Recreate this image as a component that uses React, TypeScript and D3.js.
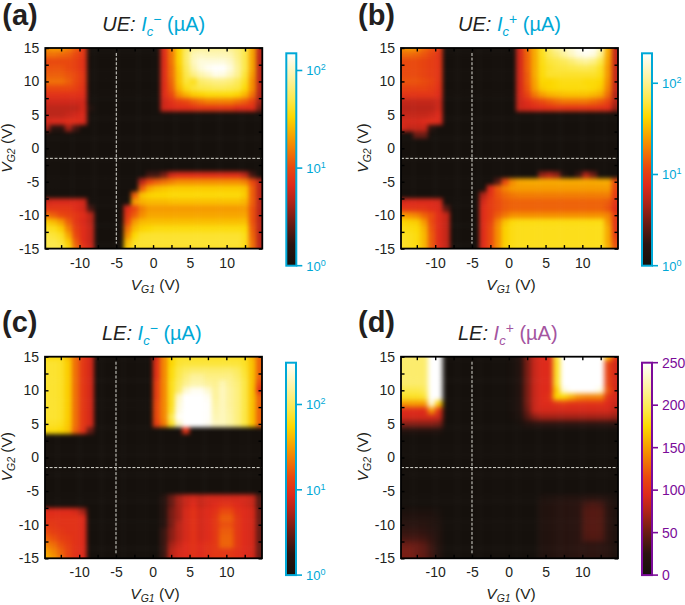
import * as React from 'react'
import { useEffect, useRef } from 'react'
import * as d3 from 'd3'

// grid of the gate sweeps, V
const vg1Grid = [-14.5,-13.5,-12.5,-11.5,-10.5,-9.5,-8.5,-7.5,-6.5,-5.5,-4.5,-3.5,-2.5,-1.5,-0.5,0.5,1.5,2.5,3.5,4.5,5.5,6.5,7.5,8.5,9.5,10.5,11.5,12.5,13.5,14.5]
const vg2Grid = [15,14,13,12,11,10,9,8,7,6,5,4,3,2,1,0,-1,-2,-3,-4,-5,-6,-7,-8,-9,-10,-11,-12,-13,-14,-15]

const xTicks = [-12.5,-10,-7.5,-5,-2.5,0,2.5,5,7.5,10,12.5]
const yTicks = [-15,-12.5,-10,-7.5,-5,-2.5,0,2.5,5,7.5,10,12.5,15]

// colour map stops, shared by the four panels
const heatStops = [0,0.1,0.2,0.3,0.38,0.46,0.58,0.7,0.78,0.88,1]
const heatColors = ['#15100c','#2b1410','#6a1c14','#b02418','#de2a1b','#e9480f','#f59000','#fcd800','#fce84a','#fdf3a0','#ffffff']

// critical current, uA, one row per vg2Grid entry
const ueMinus = [
[18,20,20,16,12,8,1,1,1,1,1,1,1,1,1,1,7,16,32,55,75,80,80,80,80,75,65,50,22,5],
[14,14,13,12,10,8,1,1,1,1,1,1,1,1,1,1,7,15,32,60,95,100,95,95,95,90,70,50,22,5],
[10,10,10,10,9,7.5,1,1,1,1,1,1,1,1,1,1,7,15,32,60,100,120,120,120,120,105,75,50,22,5],
[11,11,11,10,9,7.5,1,1,1,1,1,1,1,1,1,1,7,14,30,55,90,120,140,150,150,120,80,50,22,5],
[12,12,12,11,10,8,1,1,1,1,1,1,1,1,1,1,7,14,28,50,70,90,105,130,125,100,75,45,20,5],
[14,14,14,12,10,8,1,1,1,1,1,1,1,1,1,1,7,13,28,45,40,60,65,70,70,65,55,40,18,5],
[10,10,10,10,9,7.5,1,1,1,1,1,1,1,1,1,1,7,12,25,38,45,50,52,55,55,52,48,35,18,5],
[7.5,7.5,7.5,7.5,7.5,7,1,1,1,1,1,1,1,1,1,1,7,10,18,24,30,32,35,35,35,35,32,25,14,4.5],
[6,6,6,6,6,6,1,1,1,1,1,1,1,1,1,1,6,7.5,9,10,12,14,16,16,16,16,14,12,9,4],
[5,5,5,5,5,6,1.3,1,1,1,1,1,1,1,1,1,6,6.5,7,7,7.5,8,8,8,8,8,7,7,7,3],
[5,5,5,5.5,6,6.5,1,1,1,1,1,1,1,1,1,1,1,1,1,1,1,1,1,1,1,1,1,1,1,1],
[6,6.5,6.5,7,7,6.5,1,1,1,1,1,1,1,1,1,1,1,1,1,1,1,1,1,1,1,1,1,1,1,1],
[4,1.5,1.5,4,2,1,1,1,1,1,1,1,1,1,1,1,1,1,1,1,1,1,1,1,1,1,1,1,1,1],
[1,1,1,1,1,1,1,1,1,1,1,1,1,1,1,1,1,1,1,1,1,1,1,1,1,1,1,1,1,1],
[1,1,1,1,1,1,1,1,1,1,1,1,1,1,1,1,1,1,1,1,1,1,1,1,1,1,1,1,1,1],
[1,1,1,1,1,1,1,1,1,1,1,1,1,1,1,1,1,1,1,1,1,1,1,1,1,1,1,1,1,1],
[1,1,1,1,1,1,1,1,1,1,1,1,1,1,1,1,1,1,1,1,1,1,1,1,1,1,1,1,1,1],
[1,1,1,1,1,1,1,1,1,1,1,1,1,1,1,1,1,1,1,1,1,1,1,1,1,1,1,1,1,1],
[1,1,1,1,1,1,1,1,1,1,1,1,1,1,1,1,1,1,1,1,1,1,1,1,1,1,1,1,1,1],
[1,1,1,1,1,1,1,1,1,1,1,1,1,1,2,2,3,6,7,7,7,7,7,7,7,7,7,5,2,1],
[1,1,1,1,1,1,1,1,1,1,1,1,1,5,10,12,14,16,18,18,18,18,18,18,18,18,18,16,10,5],
[1,1,1,1,1,1,1,1,1,1,1,1,1,12,22,26,28,30,30,30,30,30,30,30,30,30,30,28,12,5],
[1,1,1,1,1,1,1,1,1,1,1,1,12,28,32,33,33,35,35,35,35,35,35,35,35,35,35,30,12,5],
[6,6.5,6.5,6.5,6.5,6,1,1,1,1,1,1,20,24,26,26,26,27,27,27,27,27,27,27,27,27,27,25,12,5],
[8,8,8,8,7,6,2,1,1,1,1,7,10,16,20,20,20,20,20,20,20,20,20,20,20,20,20,20,11,5],
[14,12,10,9,8,7,5,1,1,1,1,8,12,18,22,22,22,22,22,22,22,22,22,22,22,22,22,22,11,5],
[30,26,20,12,8,6.5,5,1,1,1,1,10,20,26,27,27,27,27,27,27,27,27,27,27,27,27,27,27,11,5],
[40,38,30,16,9,7,5.5,1,1,1,1,14,26,32,34,36,36,36,36,36,36,36,36,36,36,36,36,34,12,5],
[48,45,40,22,10,7,5.5,1,1,1,1,18,34,42,43,43,43,43,43,43,43,43,43,43,43,43,43,38,13,5],
[50,50,45,30,12,7,5.5,1,1,1,1,26,40,44,44,44,44,44,44,44,44,44,44,44,44,44,44,38,14,5],
[50,50,50,35,14,8,6,1,1,1,1,30,42,42,42,42,42,42,42,42,42,42,42,42,42,42,42,36,14,5],
]

const uePlus = [
[22,24,22,16,13,10,1,1,1,1,1,1,1,1,1,1,7,16,28,50,80,110,130,160,200,213,200,130,30,6],
[16,16,15,13,11,9,1,1,1,1,1,1,1,1,1,1,7,15,28,50,70,85,110,140,175,190,170,100,28,6],
[12,12,12,11,10,9,1,1,1,1,1,1,1,1,1,1,7,15,28,48,60,65,72,85,100,110,95,65,26,6],
[12,12,12,11,10,9,1,1,1,1,1,1,1,1,1,1,7,15,28,46,55,60,62,65,68,70,65,52,24,6],
[12,12,12,11,10,9,1,1,1,1,1,1,1,1,1,1,7,14,28,45,55,55,55,55,55,55,55,48,24,6],
[13,13,13,12,11,9,1,1,1,1,1,1,1,1,1,1,7,14,26,42,42,45,48,48,48,45,45,42,22,6],
[11,11,11,11,10,8.5,1,1,1,1,1,1,1,1,1,1,7,13,25,38,42,44,46,46,46,46,44,38,20,6],
[9,9,9,9,9,8,1,1,1,1,1,1,1,1,1,1,7,11,18,25,30,32,34,35,35,35,32,28,16,5],
[6,6,6,6,6,6.5,1,1,1,1,1,1,1,1,1,1,6.5,8,10,12,14,16,18,18,18,18,16,14,11,5],
[5.5,5.5,5.5,5.5,5.5,6.5,1,1,1,1,1,1,1,1,1,1,6.5,7,7.5,8,8.5,9,9,9,9,9,9,8.5,8,4],
[6,6,6,6,6.5,7.5,1,1,1,1,1,1,1,1,1,1,1,1,1,1,1,1,1,1,1,1,1,1,1,1],
[7,7,7,7.5,8,7.5,1,1,1,1,1,1,1,1,1,1,1,1,1,1,1,1,1,1,1,1,1,1,1,1],
[7,6,6,6,1.5,1,1,1,1,1,1,1,1,1,1,1,1,1,1,1,1,1,1,1,1,1,1,1,1,1],
[1,1,3,3,1,1,1,1,1,1,1,1,1,1,1,1,1,1,1,1,1,1,1,1,1,1,1,1,1,1],
[1,1,1,1,1,1,1,1,1,1,1,1,1,1,1,1,1,1,1,1,1,1,1,1,1,1,1,1,1,1],
[1,1,1,1,1,1,1,1,1,1,1,1,1,1,1,1,1,1,1,1,1,1,1,1,1,1,1,1,1,1],
[1,1,1,1,1,1,1,1,1,1,1,1,1,1,1,1,1,1,1,1,1,1,1,1,1,1,1,1,1,1],
[1,1,1,1,1,1,1,1,1,1,1,1,1,1,1,1,1,1,1,1,1,1,1,1,1,1,1,1,1,1],
[1,1,1,1,1,1,1,1,1,1,1,1,1,1,1,1,1,1,1,1,1,1,1,1,1,1,1,1,1,1],
[1,1,1,1,1,1,1,1,1,1,1,1,1,1,1,1,1,1,1,4,5,4,1.5,1,2,5,3,1,1,1],
[1,1,1,1,1,1,1,1,1,1,1,1,1,2.5,12,22,27,28,28,28,28,28,28,28,28,28,28,28,28,12],
[1,1,1,1,1,1,1,1,1,1,1,1,8,14,20,24,25,25,25,25,25,25,25,25,25,25,25,25,25,11],
[1,1,1,1,1,1,1,1,1,1,1,5,9,13,16,18,19,19,19,19,19,19,19,19,19,19,19,19,19,10],
[7,7.5,7.5,7.5,7.5,7,1,1,1,1,1,7,10,12,14,15,15,15,15,15,15,15,15,15,15,15,15,15,14,9],
[9,9,9,9,8,7.5,2.5,1,1,1,1,8,10,12,14,15,15,15,15,15,15,15,15,15,15,15,15,15,13,8],
[24,22,20,15,12,8,6,1,1,1,1,8,10,14,18,22,22,22,22,22,22,22,22,22,22,22,22,22,20,10],
[42,40,38,24,12,8,6,1,1,1,1,8,11,20,35,45,47,47,47,47,47,47,47,47,47,47,47,47,24,9],
[48,46,44,30,13,8,6,1,1,1,1,8,12,22,40,48,50,50,50,50,50,50,50,50,50,50,50,50,28,9],
[52,50,46,32,14,8,6,1,1,1,1,8,12,22,40,48,50,50,50,50,50,50,50,50,50,50,50,50,28,10],
[55,50,46,32,14,8,6,1,1,1,1,8,12,22,40,48,50,50,50,50,50,50,50,50,50,50,50,50,28,12],
[55,50,46,32,14,8,6,1,1,1,1,8,12,22,40,48,50,50,50,50,50,50,50,50,50,50,50,50,30,14],
]

const leMinus = [
[60,60,60,42,20,11,8,1,1,1,1,1,1,1,1,8,25,55,70,70,70,70,70,70,70,70,70,65,40,18],
[75,75,70,50,20,11,8,1,1,1,1,1,1,1,1,10,25,55,75,80,80,80,80,80,80,80,80,70,45,18],
[75,75,70,50,20,11,8,1,1,1,1,1,1,1,1,10,25,60,85,100,110,110,110,110,110,110,100,75,45,18],
[75,75,70,50,20,11,8,1,1,1,1,1,1,1,1,10,25,60,90,120,150,150,130,130,130,130,110,80,45,18],
[75,75,70,50,20,11,8,1,1,1,1,1,1,1,1,12,25,65,100,140,170,170,150,140,180,140,120,85,45,14],
[75,75,70,50,20,11,8,1,1,1,1,1,1,1,1,12,25,65,110,220,280,280,220,150,190,150,125,85,45,10],
[75,75,70,50,20,11,8,1,1,1,1,1,1,1,1,12,25,65,200,309,309,309,280,150,190,150,125,85,45,18],
[75,75,70,50,20,11,8,1,1,1,1,1,1,1,1,14,25,65,230,309,309,309,300,160,190,150,125,85,45,18],
[75,75,70,50,20,11,8,1,1,1,1,1,1,1,1,14,25,70,250,309,309,309,300,170,190,155,125,85,45,18],
[75,75,70,50,20,11,8,1,1,1,1,1,1,1,1,14,25,90,290,309,309,309,300,180,190,160,125,85,45,18],
[70,70,65,48,20,11,8,1,1,1,1,1,1,1,1,12,22,70,200,309,309,309,280,200,190,160,125,85,45,18],
[60,60,55,45,18,10,3,1,1,1,1,1,1,1,1,1,1,1,1,10,1,1,1,1,1,1,1,1,1,1],
[1,1,1,1,1,1,1,1,1,1,1,1,1,1,1,1,1,1,1,1,1,1,1,1,1,1,1,1,1,1],
[1,1,1,1,1,1,1,1,1,1,1,1,1,1,1,1,1,1,1,1,1,1,1,1,1,1,1,1,1,1],
[1,1,1,1,1,1,1,1,1,1,1,1,1,1,1,1,1,1,1,1,1,1,1,1,1,1,1,1,1,1],
[1,1,1,1,1,1,1,1,1,1,1,1,1,1,1,1,1,1,1,1,1,1,1,1,1,1,1,1,1,1],
[1,1,1,1,1,1,1,1,1,1,1,1,1,1,1,1,1,1,1,1,1,1,1,1,1,1,1,1,1,1],
[1,1,1,1,1,1,1,1,1,1,1,1,1,1,1,1,1,1,1,1,1,1,1,1,1,1,1,1,1,1],
[1,1,1,1,1,1,1,1,1,1,1,1,1,1,1,1,1,1,1,1,1,1,1,1,1,1,1,1,1,1],
[1,1,1,1,1,1,1,1,1,1,1,1,1,1,1,1,1,1,1,1,1,1,1,1,1,1,1,1,1,1],
[1,1,1,1,1,1,1,1,1,1,1,1,1,1,1,1,1,1,1,1,1,1,1,1,1,1,1,1,1,1],
[1,1,1,1,1,1,1,1,1,1,1,1,1,1,1,1,1.5,3,5,7,8,7,8,8,8,8,8,8,7,2.5],
[1,1,1,1,1,1,1,1,1,1,1,1,1,1,1,1,1.5,3,5,7,9,7,8,9,10,10,9,8,7,2.5],
[9,9,9,9,8,5,1,1,1,1,1,1,1,1,1,1,1.5,3.5,5,8,10,8,9,10,14,14,10,9,8,3],
[10,10,10,10,10,9,1,1,1,1,1,1,1,1,1,1,1.5,3.5,5,8,10,8,9,11,17,17,11,9,8,3],
[11,11,10,10,10,9,1,1,1,1,1,1,1,1,1,1,1.5,3.5,6,8,10,8,9,11,15,15,11,9,8,3],
[14,12,11,10,10,9,1,1,1,1,1,1,1,1,1,1,2,4,6,8,10,8,9,11,17,17,11,9,8,3],
[18,15,12,11,10,9,1,1,1,1,1,1,1,1,1,1,2,4,6,8,10,8,9,11,18,18,11,9,8,3],
[24,20,15,12,10,9,1,1,1,1,1,1,1,1,1,1,2,5,7,9,10,9,10,11,18,18,11,9,8,3],
[32,25,18,13,10,9,1,1,1,1,1,1,1,1,1,1,2,6,8,9,10,9,10,11,11,11,10,9,8,3],
[38,30,20,13,10,9,1,1,1,1,1,1,1,1,1,1,2,6,8,9,10,9,10,11,11,11,10,9,8,3],
]

const lePlus = [
[205,205,205,205,250,250,0,0,0,0,0,0,0,0,0,5,15,55,85,95,95,190,250,250,250,250,250,250,170,100],
[205,205,205,205,250,250,0,0,0,0,0,0,0,0,0,5,15,55,85,95,95,185,250,250,250,250,250,250,110,90],
[205,205,205,205,250,250,0,0,0,0,0,0,0,0,0,5,15,55,85,95,95,185,250,250,250,250,250,250,110,90],
[205,205,205,205,250,250,0,0,0,0,0,0,0,0,0,5,15,55,85,95,95,185,250,250,250,250,250,250,110,90],
[205,205,205,205,250,250,0,0,0,0,0,0,0,0,0,5,15,55,85,95,95,185,250,250,250,250,250,250,110,90],
[195,195,195,200,250,250,0,0,0,0,0,0,0,0,0,5,15,55,85,95,95,170,240,250,250,250,250,240,120,90],
[185,185,185,190,250,250,0,0,0,0,0,0,0,0,0,5,15,55,85,95,100,175,175,160,145,140,140,140,100,90],
[150,150,150,150,240,170,0,0,0,0,0,0,0,0,0,5,15,55,85,95,95,100,105,100,100,100,100,100,95,85],
[95,95,95,95,150,100,0,0,0,0,0,0,0,0,0,5,15,50,85,90,90,90,90,90,90,90,90,90,90,80],
[90,90,90,90,90,85,0,0,0,0,0,0,0,0,0,3,10,40,60,70,70,70,70,70,70,70,70,70,70,65],
[60,60,60,60,60,55,0,0,0,0,0,0,0,0,0,0,3,15,20,25,25,25,25,25,25,25,25,25,25,25],
[15,15,15,15,15,12,0,0,0,0,0,0,0,0,0,0,0,0,0,0,0,0,0,0,0,0,0,0,0,0],
[0,0,0,0,0,0,0,0,0,0,0,0,0,0,0,0,0,0,0,0,0,0,0,0,0,0,0,0,0,0],
[0,0,0,0,0,0,0,0,0,0,0,0,0,0,0,0,0,0,0,0,0,0,0,0,0,0,0,0,0,0],
[0,0,0,0,0,0,0,0,0,0,0,0,0,0,0,0,0,0,0,0,0,0,0,0,0,0,0,0,0,0],
[0,0,0,0,0,0,0,0,0,0,0,0,0,0,0,0,0,0,0,0,0,0,0,0,0,0,0,0,0,0],
[0,0,0,0,0,0,0,0,0,0,0,0,0,0,0,0,0,0,0,0,0,0,0,0,0,0,0,0,0,0],
[0,0,0,0,0,0,0,0,0,0,0,0,0,0,0,0,0,0,0,0,0,0,0,0,0,0,0,0,0,0],
[0,0,0,0,0,0,0,0,0,0,0,0,0,0,0,0,0,0,0,0,0,0,0,0,0,0,0,0,0,0],
[0,0,0,0,0,0,0,0,0,0,0,0,0,0,0,0,0,0,0,0,0,0,0,0,0,0,0,0,0,0],
[0,0,0,0,0,0,0,0,0,0,0,0,0,0,0,0,0,0,0,0,0,0,0,0,0,0,0,0,0,0],
[0,0,0,0,0,0,0,0,0,0,0,0,0,0,0,0,0,0,0,8,10,12,14,15,15,18,20,18,12,4],
[0,0,0,0,0,0,0,0,0,0,0,0,0,0,0,0,0,0,0,12,15,18,20,22,25,35,38,35,22,8],
[8,8,8,8,8,5,0,0,0,0,0,0,0,0,0,0,0,0,0,12,15,18,20,22,25,40,42,40,25,10],
[15,15,15,15,12,8,0,0,0,0,0,0,0,0,0,0,0,0,0,12,15,18,20,22,25,40,42,40,25,10],
[22,22,22,20,16,10,0,0,0,0,0,0,0,0,0,0,0,0,0,12,15,18,20,22,25,40,42,40,25,10],
[28,28,28,26,22,12,0,0,0,0,0,0,0,0,0,0,0,0,0,12,15,18,20,22,25,40,42,40,25,10],
[35,35,35,32,26,14,0,0,0,0,0,0,0,0,0,0,0,0,0,12,15,18,20,22,25,38,40,38,25,10],
[50,50,48,42,30,15,0,0,0,0,0,0,0,0,0,0,0,0,0,12,15,18,20,22,25,25,26,25,20,10],
[55,55,50,45,32,16,0,0,0,0,0,0,0,0,0,0,0,0,0,12,15,18,20,22,25,25,26,25,20,10],
[55,55,50,45,32,16,0,0,0,0,0,0,0,0,0,0,0,0,0,12,15,18,20,22,25,25,26,25,20,10],
]

const heat = d3.scaleLinear<string>().domain(heatStops).range(heatColors).clamp(true)

const CYAN = '#00a8d6'
const PURPLE = '#7b0c99'
const INK = '#231f20'
const SANS = '"Liberation Sans", Arial, sans-serif'

interface PanelProps {
  id: string
  tag: string
  edge: string
  sign: string
  rows: number[][]
  top: number
  log: boolean
  barTicks: number[]
  barColor: string
  titleColor: string
  left: number
  plotTop: number
  plotHeight: number
  barTop: number
  blur: number
  tagY: number
  titleY: number
}

function BarLabel({ p, v, x, y }: { p: PanelProps; v: number; x: number; y: number }) {
  if (!p.log) {
    return <text x={x} y={y + 5} fontSize={14} fill={p.barColor}>{v}</text>
  }
  return (
    <text x={x} y={y + 5} fontSize={13} fill={p.barColor}>
      10<tspan dy={-5} fontSize={9}>{Math.round(Math.log10(v))}</tspan>
    </text>
  )
}

function Panel(p: PanelProps) {
  const gRef = useRef<SVGGElement>(null)
  const plotWidth = 217
  const barHeight = 212.4
  const barLeft = p.left + 241
  const barWidth = 10

  const x = d3.scaleLinear().domain([-14.65, 14.85]).range([p.left, p.left + plotWidth])
  const y = d3.scaleLinear().domain([-15, 15]).range([p.plotTop + p.plotHeight, p.plotTop])
  const barY = p.log
    ? d3.scaleLog().domain([1, p.top]).range([p.barTop + barHeight, p.barTop])
    : d3.scaleLinear().domain([0, p.top]).range([p.barTop + barHeight, p.barTop])

  useEffect(() => {
    if (!gRef.current) return
    const g = d3.select(gRef.current)
    g.selectAll('*').remove()

    const norm = p.log
      ? d3.scaleLog().domain([1, p.top]).range([0, 1]).clamp(true)
      : d3.scaleLinear().domain([0, p.top]).range([0, 1]).clamp(true)

    // heat cells, blurred a little so the map looks interpolated
    const cells = p.rows.flatMap((row, r) => row.map((value, c) => ({ value, r, c })))
    const soft = g.append('g')
      .attr('clip-path', `url(#clip-${p.id})`)
      .append('g')
      .attr('filter', `url(#soft-${p.id})`)
    soft.selectAll('rect')
      .data(cells)
      .join('rect')
      .attr('x', d => x(vg1Grid[d.c] - 0.5) - (d.c === 0 ? 12 : 0))
      .attr('width', d => x(1) - x(0) + 0.5 + (d.c === 0 || d.c === vg1Grid.length - 1 ? 12 : 0))
      .attr('y', d => y(vg2Grid[d.r] + 0.5) - (d.r === 0 ? 12 : 0))
      .attr('height', d => y(0) - y(1) + 0.5 + (d.r === 0 || d.r === vg2Grid.length - 1 ? 12 : 0))
      .attr('fill', d => heat(norm(d.value)))

    // dashed guides at the charge neutrality points
    const guides = g.append('g')
      .attr('stroke', '#dcdcd4')
      .attr('stroke-width', 1)
      .attr('stroke-dasharray', '3 1.6')
    guides.append('line')
      .attr('x1', x(-5)).attr('x2', x(-5))
      .attr('y1', p.plotTop + 5).attr('y2', p.plotTop + p.plotHeight - 5)
    guides.append('line')
      .attr('x1', p.left).attr('x2', p.left + plotWidth)
      .attr('y1', y(-1.5)).attr('y2', y(-1.5))

    const isMajor = (v: number) => v % 5 === 0
    const fmt = (v: d3.NumberValue) => (isMajor(+v) ? String(+v) : '')
    const style = (sel: d3.Selection<SVGGElement, unknown, null, undefined>) => {
      sel.select('.domain').remove()
      sel.selectAll('line').attr('stroke', '#000').attr('stroke-width', 1.4)
      sel.selectAll('text').attr('font-size', 14).attr('font-family', SANS).attr('fill', INK)
    }

    g.append('g')
      .attr('transform', `translate(0,${p.plotTop + p.plotHeight})`)
      .call(d3.axisBottom(x).tickValues(xTicks).tickSizeInner(-3.5).tickPadding(9).tickFormat(fmt))
      .call(style)
    g.append('g')
      .attr('transform', `translate(0,${p.plotTop})`)
      .call(d3.axisTop(x).tickValues(xTicks).tickSizeInner(-3.5).tickFormat(() => ''))
      .call(style)
    g.append('g')
      .attr('transform', `translate(${p.left},0)`)
      .call(d3.axisLeft(y).tickValues(yTicks).tickSizeInner(-3.5).tickPadding(6).tickFormat(fmt))
      .call(style)
    g.append('g')
      .attr('transform', `translate(${p.left + plotWidth},0)`)
      .call(d3.axisRight(y).tickValues(yTicks).tickSizeInner(-3.5).tickFormat(() => ''))
      .call(style)

    g.append('rect')
      .attr('x', p.left).attr('y', p.plotTop)
      .attr('width', plotWidth).attr('height', p.plotHeight)
      .attr('fill', 'none').attr('stroke', '#000').attr('stroke-width', 1.8)
  }, [])

  const cx = p.left + 110
  const xLabelY = p.plotTop + p.plotHeight + 41
  const yLabelX = p.left - 33
  const yMid = p.plotTop + 100

  return (
    <g fontFamily={SANS}>
      <defs>
        <clipPath id={`clip-${p.id}`}>
          <rect x={p.left} y={p.plotTop} width={plotWidth} height={p.plotHeight} />
        </clipPath>
        <filter
          id={`soft-${p.id}`}
          filterUnits="userSpaceOnUse"
          x={p.left - 30}
          y={p.plotTop - 30}
          width={plotWidth + 60}
          height={p.plotHeight + 60}
          colorInterpolationFilters="sRGB"
        >
          <feGaussianBlur stdDeviation={p.blur} />
        </filter>
        <linearGradient id={`bar-${p.id}`} x1="0" y1="1" x2="0" y2="0">
          {heatStops.map((s, i) => (
            <stop key={s} offset={s} stopColor={heatColors[i]} />
          ))}
        </linearGradient>
      </defs>

      <text x={p.left - 43} y={p.tagY} fontSize={29} fontWeight="bold" fill={INK}>{p.tag}</text>

      <text x={p.left + 57} y={p.titleY} fontSize={20} fill={INK}>
        <tspan fontStyle="italic">{p.edge}: </tspan>
        <tspan fontStyle="italic" fill={p.titleColor}>I</tspan>
        <tspan fontStyle="italic" fill={p.titleColor} fontSize={13} dy={5}>c</tspan>
        <tspan fill={p.titleColor} fontSize={14} dy={-12}>{p.sign}</tspan>
        <tspan fill={p.titleColor} dy={7}> (µA)</tspan>
      </text>

      <g ref={gRef} />

      <text x={cx} y={xLabelY} fontSize={15.5} fill={INK} textAnchor="middle">
        <tspan fontStyle="italic">V</tspan>
        <tspan fontStyle="italic" fontSize={10.5} dy={3}>G1</tspan>
        <tspan dy={-3}> (V)</tspan>
      </text>
      <text
        transform={`translate(${yLabelX},${yMid}) rotate(-90)`}
        fontSize={15.5}
        fill={INK}
        textAnchor="middle"
      >
        <tspan fontStyle="italic">V</tspan>
        <tspan fontStyle="italic" fontSize={10.5} dy={3}>G2</tspan>
        <tspan dy={-3}> (V)</tspan>
      </text>

      <rect
        x={barLeft}
        y={p.barTop}
        width={barWidth}
        height={barHeight}
        fill={`url(#bar-${p.id})`}
        stroke={p.barColor}
        strokeWidth={2}
      />
      {p.barTicks.map(v => (
        <g key={v}>
          <line
            x1={barLeft + barWidth}
            x2={barLeft + barWidth + 6}
            y1={barY(v)}
            y2={barY(v)}
            stroke={p.barColor}
            strokeWidth={1.6}
          />
          <BarLabel p={p} v={v} x={barLeft + barWidth + 10} y={barY(v)} />
        </g>
      ))}
    </g>
  )
}

const panels: PanelProps[] = [
  { id: 'a', tag: '(a)', edge: 'UE', sign: '−', rows: ueMinus, top: 150, log: true, barTicks: [1, 10, 100], barColor: CYAN, titleColor: CYAN, left: 45.3, plotTop: 48, plotHeight: 200.6, barTop: 53.3, blur: 1.9, tagY: 25, titleY: 31 },
  { id: 'b', tag: '(b)', edge: 'UE', sign: '+', rows: uePlus, top: 213, log: true, barTicks: [1, 10, 100], barColor: CYAN, titleColor: CYAN, left: 401, plotTop: 48, plotHeight: 200.6, barTop: 53.3, blur: 1.9, tagY: 25, titleY: 31 },
  { id: 'c', tag: '(c)', edge: 'LE', sign: '−', rows: leMinus, top: 309, log: true, barTicks: [1, 10, 100], barColor: CYAN, titleColor: CYAN, left: 45, plotTop: 356.7, plotHeight: 201.6, barTop: 362.7, blur: 1.9, tagY: 332, titleY: 340 },
  { id: 'd', tag: '(d)', edge: 'LE', sign: '+', rows: lePlus, top: 250, log: false, barTicks: [0, 50, 100, 150, 200, 250], barColor: PURPLE, titleColor: '#a4559f', left: 401, plotTop: 356.7, plotHeight: 201.6, barTop: 362.7, blur: 2.4, tagY: 332, titleY: 340 },
]

export default function App() {
  return (
    <svg
      width={685}
      height={605}
      viewBox="0 0 685 605"
      style={{ position: 'absolute', left: 0, top: 0, background: '#fff', display: 'block' }}
    >
      {panels.map(p => (
        <Panel key={p.id} {...p} />
      ))}
    </svg>
  )
}
